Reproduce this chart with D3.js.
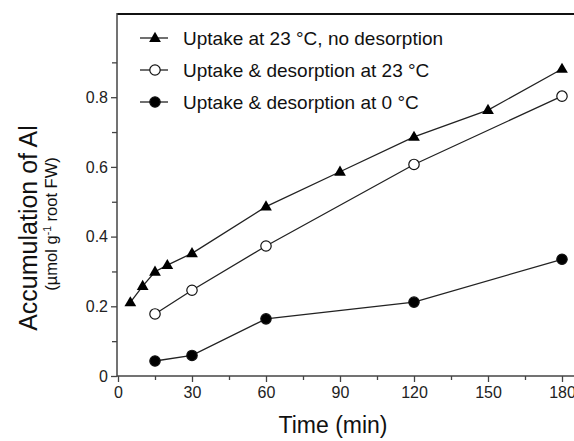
<!DOCTYPE html>
<html>
<head>
<meta charset="utf-8">
<script src="https://cdn.jsdelivr.net/npm/d3@7"></script>
<style>
  body { margin: 0; background: #fff; }
  svg { display: block; font-family: "Liberation Sans", Arial, sans-serif; }
</style>
</head>
<body>
<div id="chart"></div>
<script>
// data
var seriesNames = ["Uptake at 23 °C, no desorption", "Uptake & desorption at 23 °C", "Uptake & desorption at 0 °C"];
var timeNoDes = [5, 10, 15, 20, 30, 60, 90, 120, 150, 180];
var alNoDes = [0.211, 0.258, 0.299, 0.318, 0.352, 0.486, 0.586, 0.686, 0.763, 0.881];
var timeDes23 = [15, 30, 60, 120, 180];
var alDes23 = [0.178, 0.246, 0.373, 0.607, 0.803];
var timeDes0 = [15, 30, 60, 120, 180];
var alDes0 = [0.043, 0.059, 0.164, 0.212, 0.335];
var xTicks = [0, 30, 60, 90, 120, 150, 180];
var yTicks = [0, 0.2, 0.4, 0.6, 0.8];

var W = 574, H = 441;
var svg = d3.select("#chart").append("svg").attr("width", W).attr("height", H);

var x = d3.scaleLinear().domain([0, 180]).range([118, 562]);
var y = d3.scaleLinear().domain([0, 1]).range([376, 27.5]);
var axisCol = "#444", lineCol = "#222";

// frame: top border and extended bottom/left lines
svg.append("line").attr("x1", 117).attr("x2", W).attr("y1", 14).attr("y2", 14)
  .attr("stroke", "#111").attr("stroke-width", 2);
svg.append("line").attr("x1", 117).attr("x2", W).attr("y1", 376).attr("y2", 376)
  .attr("stroke", axisCol).attr("stroke-width", 1.5);
svg.append("line").attr("x1", 117).attr("x2", 117).attr("y1", 13).attr("y2", 376.5)
  .attr("stroke", axisCol).attr("stroke-width", 1.5);

// x axis
var gx = svg.append("g").attr("transform", "translate(0,376)")
  .call(d3.axisBottom(x).tickValues(xTicks).tickSize(6).tickPadding(5).tickFormat(d3.format("d")));
gx.append("g").call(d3.axisBottom(x).tickValues(d3.range(15, 181, 30)).tickSize(4).tickFormat(""));
gx.selectAll(".domain").remove();
gx.selectAll("line").attr("stroke", axisCol).attr("stroke-width", 1.3);
gx.selectAll("text").attr("font-size", 16).attr("fill", "#222").attr("font-family", "Liberation Sans, Arial, sans-serif");

// y axis
var gy = svg.append("g").attr("transform", "translate(117,0)")
  .call(d3.axisLeft(y).tickValues(yTicks).tickSize(6).tickPadding(3).tickFormat(function(d){ return d === 0 ? "0" : d3.format(".1f")(d); }));
gy.append("g").call(d3.axisLeft(y).tickValues([0.1, 0.3, 0.5, 0.7, 0.9]).tickSize(5).tickFormat(""));
gy.selectAll(".domain").remove();
gy.selectAll("line").attr("stroke", axisCol).attr("stroke-width", 1.3);
gy.selectAll("text").attr("font-size", 16).attr("fill", "#222").attr("font-family", "Liberation Sans, Arial, sans-serif");

// axis titles
svg.append("text").attr("x", 333).attr("y", 433).attr("text-anchor", "middle")
  .attr("font-size", 23).attr("fill", "#111").text("Time (min)");
svg.append("text").attr("transform", "translate(37,228) rotate(-90)").attr("text-anchor", "middle")
  .attr("font-size", 25).attr("fill", "#111").text("Accumulation of Al");
var sub = svg.append("text").attr("transform", "translate(57,224) rotate(-90)").attr("text-anchor", "middle")
  .attr("font-size", 16.5).attr("fill", "#111");
sub.append("tspan").text("(µmol g");
sub.append("tspan").attr("font-size", 10.5).attr("dy", -6).text("-1");
sub.append("tspan").attr("dy", 6).text(" root FW)");

var line = d3.line().x(function(d){ return x(d[0]); }).y(function(d){ return y(d[1]); });
var tri = d3.symbol().type(d3.symbolTriangle).size(60);

var series = [
  { name: seriesNames[0], pts: d3.zip(timeNoDes, alNoDes), mark: "tri" },
  { name: seriesNames[1], pts: d3.zip(timeDes23, alDes23), mark: "open" },
  { name: seriesNames[2], pts: d3.zip(timeDes0, alDes0), mark: "filled" }
];

function drawMark(g, kind) {
  if (kind === "tri") {
    g.append("path").attr("d", tri).attr("transform", "translate(0,0.5)").attr("fill", "#000");
  } else {
    g.append("circle").attr("r", 5.2)
      .attr("fill", kind === "open" ? "#fff" : "#000")
      .attr("stroke", "#111").attr("stroke-width", 1.2);
  }
}

series.forEach(function(s) {
  svg.append("path").datum(s.pts).attr("d", line).attr("fill", "none")
    .attr("stroke", lineCol).attr("stroke-width", 1.3);
  svg.selectAll(null).data(s.pts).enter().append("g")
    .attr("transform", function(d){ return "translate(" + x(d[0]) + "," + y(d[1]) + ")"; })
    .each(function(){ drawMark(d3.select(this), s.mark); });
});

// legend
var leg = svg.append("g");
series.forEach(function(s, i) {
  var ly = 38 + i * 32;
  leg.append("line").attr("x1", 140).attr("x2", 168).attr("y1", ly).attr("y2", ly)
    .attr("stroke", lineCol).attr("stroke-width", 1.3);
  drawMark(leg.append("g").attr("transform", "translate(155," + ly + ")"), s.mark);
  leg.append("text").attr("x", 183).attr("y", ly + 6.5).attr("font-size", 19)
    .attr("fill", "#111").text(s.name);
});
</script>
</body>
</html>
